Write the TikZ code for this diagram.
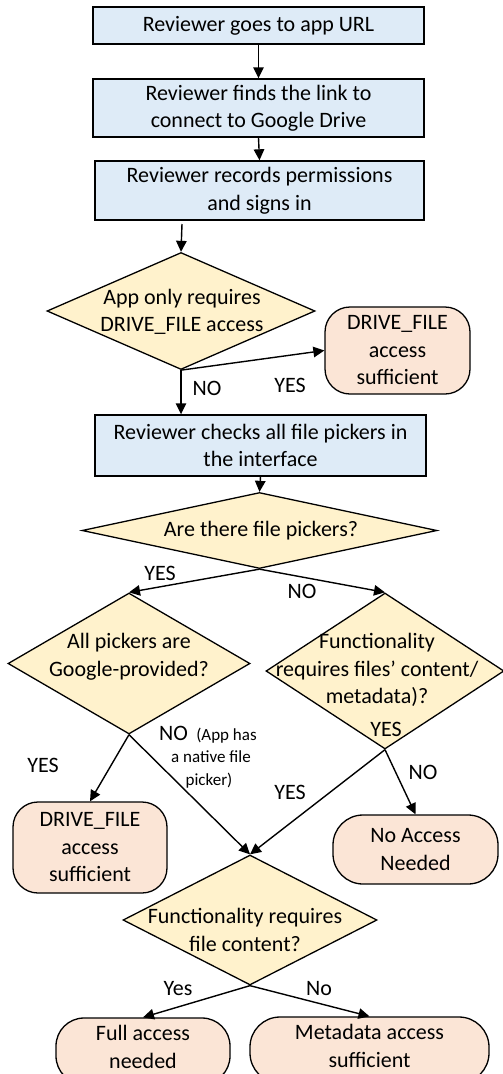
\documentclass[tikz,border=0pt]{standalone}
\usepackage{fontspec}
\setmainfont{Carlito}
\usetikzlibrary{shapes.geometric,arrows.meta}
\definecolor{boxblue}{HTML}{DEEBF7}
\definecolor{diayellow}{HTML}{FFF2CC}
\definecolor{termpink}{HTML}{FBE5D6}
\tikzset{
  procbox/.style={draw, fill=boxblue, line width=1.4pt, align=center, inner sep=0pt},
  dia/.style={diamond, draw, fill=diayellow, line width=1.3pt, inner sep=0pt},
  term/.style={draw, fill=termpink, line width=1.3pt, rounded corners=25pt, align=center, inner sep=0pt},
  lbl/.style={inner sep=0pt, align=center},
  small/.style={inner sep=0pt, align=center, font=\fontsize{17}{23}\selectfont},
  arr/.style={-{Triangle[length=11pt,width=10.5pt]}, line width=1.4pt}
}
\begin{document}
\begin{tikzpicture}[x=1pt, y=-1pt, font=\fontsize{22}{27.5}\selectfont]
\useasboundingbox (0,0) rectangle (503,1074);
\clip (0,0) rectangle (503,1074);
% process boxes and decisions
\node[procbox, minimum width=331pt, minimum height=37pt] (b1) at (258.5,25.5) {Reviewer goes to app URL};
\node[procbox, minimum width=331pt, minimum height=58pt] (b2) at (258.5,108) {Reviewer finds the link to\\connect to Google Drive};
\node[procbox, minimum width=329pt, minimum height=59pt] (b3) at (259.5,190.5) {Reviewer records permissions\\and signs in};
\coordinate (c3) at (182,224);
\node[dia, minimum width=268pt, minimum height=117pt] (d1) at (181,311) {};
\node[lbl] (d1t) at (182,312) {App only requires\\DRIVE\_FILE access};
\node[term, minimum width=145pt, minimum height=87pt] (t1) at (397.5,350.5) {DRIVE\_FILE\\access\\sufficient};
\node[lbl] (l1) at (207,388) {NO};
\node[lbl] (l2) at (290,385) {YES};
\node[procbox, minimum width=331pt, minimum height=61pt] (b4) at (260.5,445.5) {Reviewer checks all file pickers in\\the interface};
\node[dia, minimum width=355pt, minimum height=76pt] (d2) at (259.5,530.5) {};
\node[lbl] (d2t) at (261,531) {Are there file pickers?};
\node[lbl] (l3) at (160,573) {YES};
\node[lbl] (l4) at (302,591) {NO};
\node[dia, minimum width=242pt, minimum height=141pt] (d3) at (129,663.5) {};
\node[lbl] (d3t) at (129,656.5) {All pickers are\\Google-provided?};
\node[dia, minimum width=238pt, minimum height=156pt] (d4) at (385,671) {};
\node[lbl] (d4t) at (377,670) {Functionality\\requires files’ content/\\metadata)?};
\node[lbl] (l5) at (386,729) {YES};
\node[lbl, anchor=base] (l6) at (173.5,740) {NO};
\node[small, anchor=base] (l6a) at (226.5,740) {(App has};
\node[small, anchor=base] (l6b) at (211,762.5) {a native file};
\node[small, anchor=base] (l6c) at (209,785) {picker)};
\node[lbl] (l7) at (43,765) {YES};
\node[lbl] (l8) at (423,772) {NO};
\node[lbl] (l9) at (290,792) {YES};
\node[term, minimum width=154pt, minimum height=91pt] (t2) at (90,847.5) {DRIVE\_FILE\\access\\sufficient};
\node[term, minimum width=165pt, minimum height=69pt, rounded corners=30pt] (t3) at (415.5,849.5) {No Access\\Needed};
\node[dia, minimum width=254pt, minimum height=130pt] (d5) at (250,920) {};
\node[lbl] (d5t) at (245,930) {Functionality requires\\file content?};
\node[lbl] (l10) at (178,989) {Yes};
\node[lbl] (l11) at (319,989) {No};
\node[term, minimum width=174pt, minimum height=66pt, rounded corners=28pt] (t4) at (143,1051) {};
\node[lbl] (t4t) at (143,1047) {Full access\\needed};
\node[term, minimum width=239pt, minimum height=66pt, rounded corners=30pt] (t5) at (369.5,1050) {};
\node[lbl] (t5t) at (369.5,1046) {Metadata access\\sufficient};
% connectors
\draw[arr] (b1.south) -- (b2.north);
\draw[arr] (b2.south) -- (b3.north);
\draw[arr] (c3) -- (d1.north);
\draw[arr] (d1.south) -- (d1.south |- b4.north);
\draw[arr] (d1.south) -- (t1.west);
\draw[arr] (b4.south) -- (d2.north);
\draw[arr] (d2.south) -- (d3.north);
\draw[arr] (d2.south) -- (d4.north);
\draw[arr] (d3.south) -- (t2.north);
\draw[arr] (d3.south) -- (d5.north);
\draw[arr] (d4.south) -- (d5.north);
\draw[arr] (d4.south) -- (t3.north);
\draw[arr] (d5.south) -- (t4.north);
\draw[arr] (d5.south) -- (t5.north);
\end{tikzpicture}
\end{document}
